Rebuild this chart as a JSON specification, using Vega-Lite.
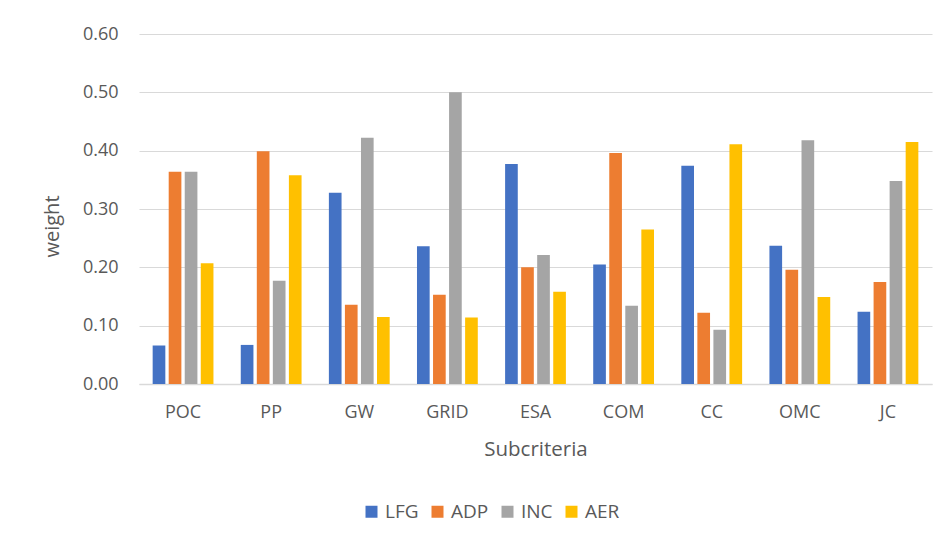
{
  "$schema": "https://vega.github.io/schema/vega-lite/v6.json",
  "width": 793,
  "height": 350,
  "autosize": {"type": "none"},
  "padding": {"left": 139, "top": 34, "right": 20, "bottom": 155},
  "background": "white",
  "config": {
    "view": {"stroke": null},
    "font": "Open Sans",
    "axis": {"labelFont": "Open Sans", "titleFont": "Open Sans", "labelColor": "#595959", "titleColor": "#595959", "titleFontWeight": "normal"},
    "legend": {"labelFont": "Open Sans", "labelColor": "#595959"}
  },
  "data": {
    "values": [
      {"sub": "POC", "alt": "LFG", "w": 0.066}, {"sub": "POC", "alt": "ADP", "w": 0.364}, {"sub": "POC", "alt": "INC", "w": 0.364}, {"sub": "POC", "alt": "AER", "w": 0.207},
      {"sub": "PP", "alt": "LFG", "w": 0.067}, {"sub": "PP", "alt": "ADP", "w": 0.399}, {"sub": "PP", "alt": "INC", "w": 0.177}, {"sub": "PP", "alt": "AER", "w": 0.358},
      {"sub": "GW", "alt": "LFG", "w": 0.328}, {"sub": "GW", "alt": "ADP", "w": 0.136}, {"sub": "GW", "alt": "INC", "w": 0.422}, {"sub": "GW", "alt": "AER", "w": 0.115},
      {"sub": "GRID", "alt": "LFG", "w": 0.236}, {"sub": "GRID", "alt": "ADP", "w": 0.153}, {"sub": "GRID", "alt": "INC", "w": 0.500}, {"sub": "GRID", "alt": "AER", "w": 0.114},
      {"sub": "ESA", "alt": "LFG", "w": 0.377}, {"sub": "ESA", "alt": "ADP", "w": 0.200}, {"sub": "ESA", "alt": "INC", "w": 0.221}, {"sub": "ESA", "alt": "AER", "w": 0.158},
      {"sub": "COM", "alt": "LFG", "w": 0.205}, {"sub": "COM", "alt": "ADP", "w": 0.396}, {"sub": "COM", "alt": "INC", "w": 0.134}, {"sub": "COM", "alt": "AER", "w": 0.265},
      {"sub": "CC", "alt": "LFG", "w": 0.374}, {"sub": "CC", "alt": "ADP", "w": 0.122}, {"sub": "CC", "alt": "INC", "w": 0.093}, {"sub": "CC", "alt": "AER", "w": 0.411},
      {"sub": "OMC", "alt": "LFG", "w": 0.237}, {"sub": "OMC", "alt": "ADP", "w": 0.196}, {"sub": "OMC", "alt": "INC", "w": 0.418}, {"sub": "OMC", "alt": "AER", "w": 0.149},
      {"sub": "JC", "alt": "LFG", "w": 0.124}, {"sub": "JC", "alt": "ADP", "w": 0.175}, {"sub": "JC", "alt": "INC", "w": 0.348}, {"sub": "JC", "alt": "AER", "w": 0.415}
    ]
  },
  "mark": {"type": "bar"},
  "encoding": {
    "x": {
      "field": "sub", "type": "nominal", "sort": null,
      "scale": {"paddingInner": 0.31, "paddingOuter": 0.155},
      "axis": {
        "title": "Subcriteria", "labelAngle": 0, "labelFontSize": 18, "titleFontSize": 20.5,
        "ticks": false, "labelPadding": 19, "domainColor": "#D9D9D9", "domainWidth": 1.5,
        "titleBaseline": "alphabetic", "titleY": 71, "titleX": 396.5
      }
    },
    "xOffset": {
      "field": "alt", "type": "nominal", "sort": ["LFG", "ADP", "INC", "AER"],
      "scale": {"paddingInner": 0.21, "paddingOuter": 0}
    },
    "y": {
      "field": "w", "type": "quantitative",
      "scale": {"domain": [0, 0.6], "nice": false},
      "axis": {
        "title": "weight", "values": [0, 0.1, 0.2, 0.3, 0.4, 0.5, 0.6], "format": ".2f",
        "labelFontSize": 18, "titleFontSize": 20, "ticks": false, "domain": false,
        "labelPadding": 21, "gridColor": "#D9D9D9", "gridWidth": 1,
        "titleBaseline": "alphabetic", "titleX": -81, "titleY": 192, "titleAngle": -90
      }
    },
    "color": {
      "field": "alt", "type": "nominal", "sort": ["LFG", "ADP", "INC", "AER"],
      "scale": {"domain": ["LFG", "ADP", "INC", "AER"], "range": ["#4472C4", "#ED7D31", "#A5A5A5", "#FFC000"]},
      "legend": {
        "title": null, "orient": "none", "direction": "horizontal", "columns": 4,
        "legendX": 223, "legendY": 468, "symbolType": "square", "symbolSize": 144,
        "symbolStrokeWidth": 0, "labelFontSize": 19, "labelOffset": 4, "columnPadding": 9
      }
    }
  }
}
